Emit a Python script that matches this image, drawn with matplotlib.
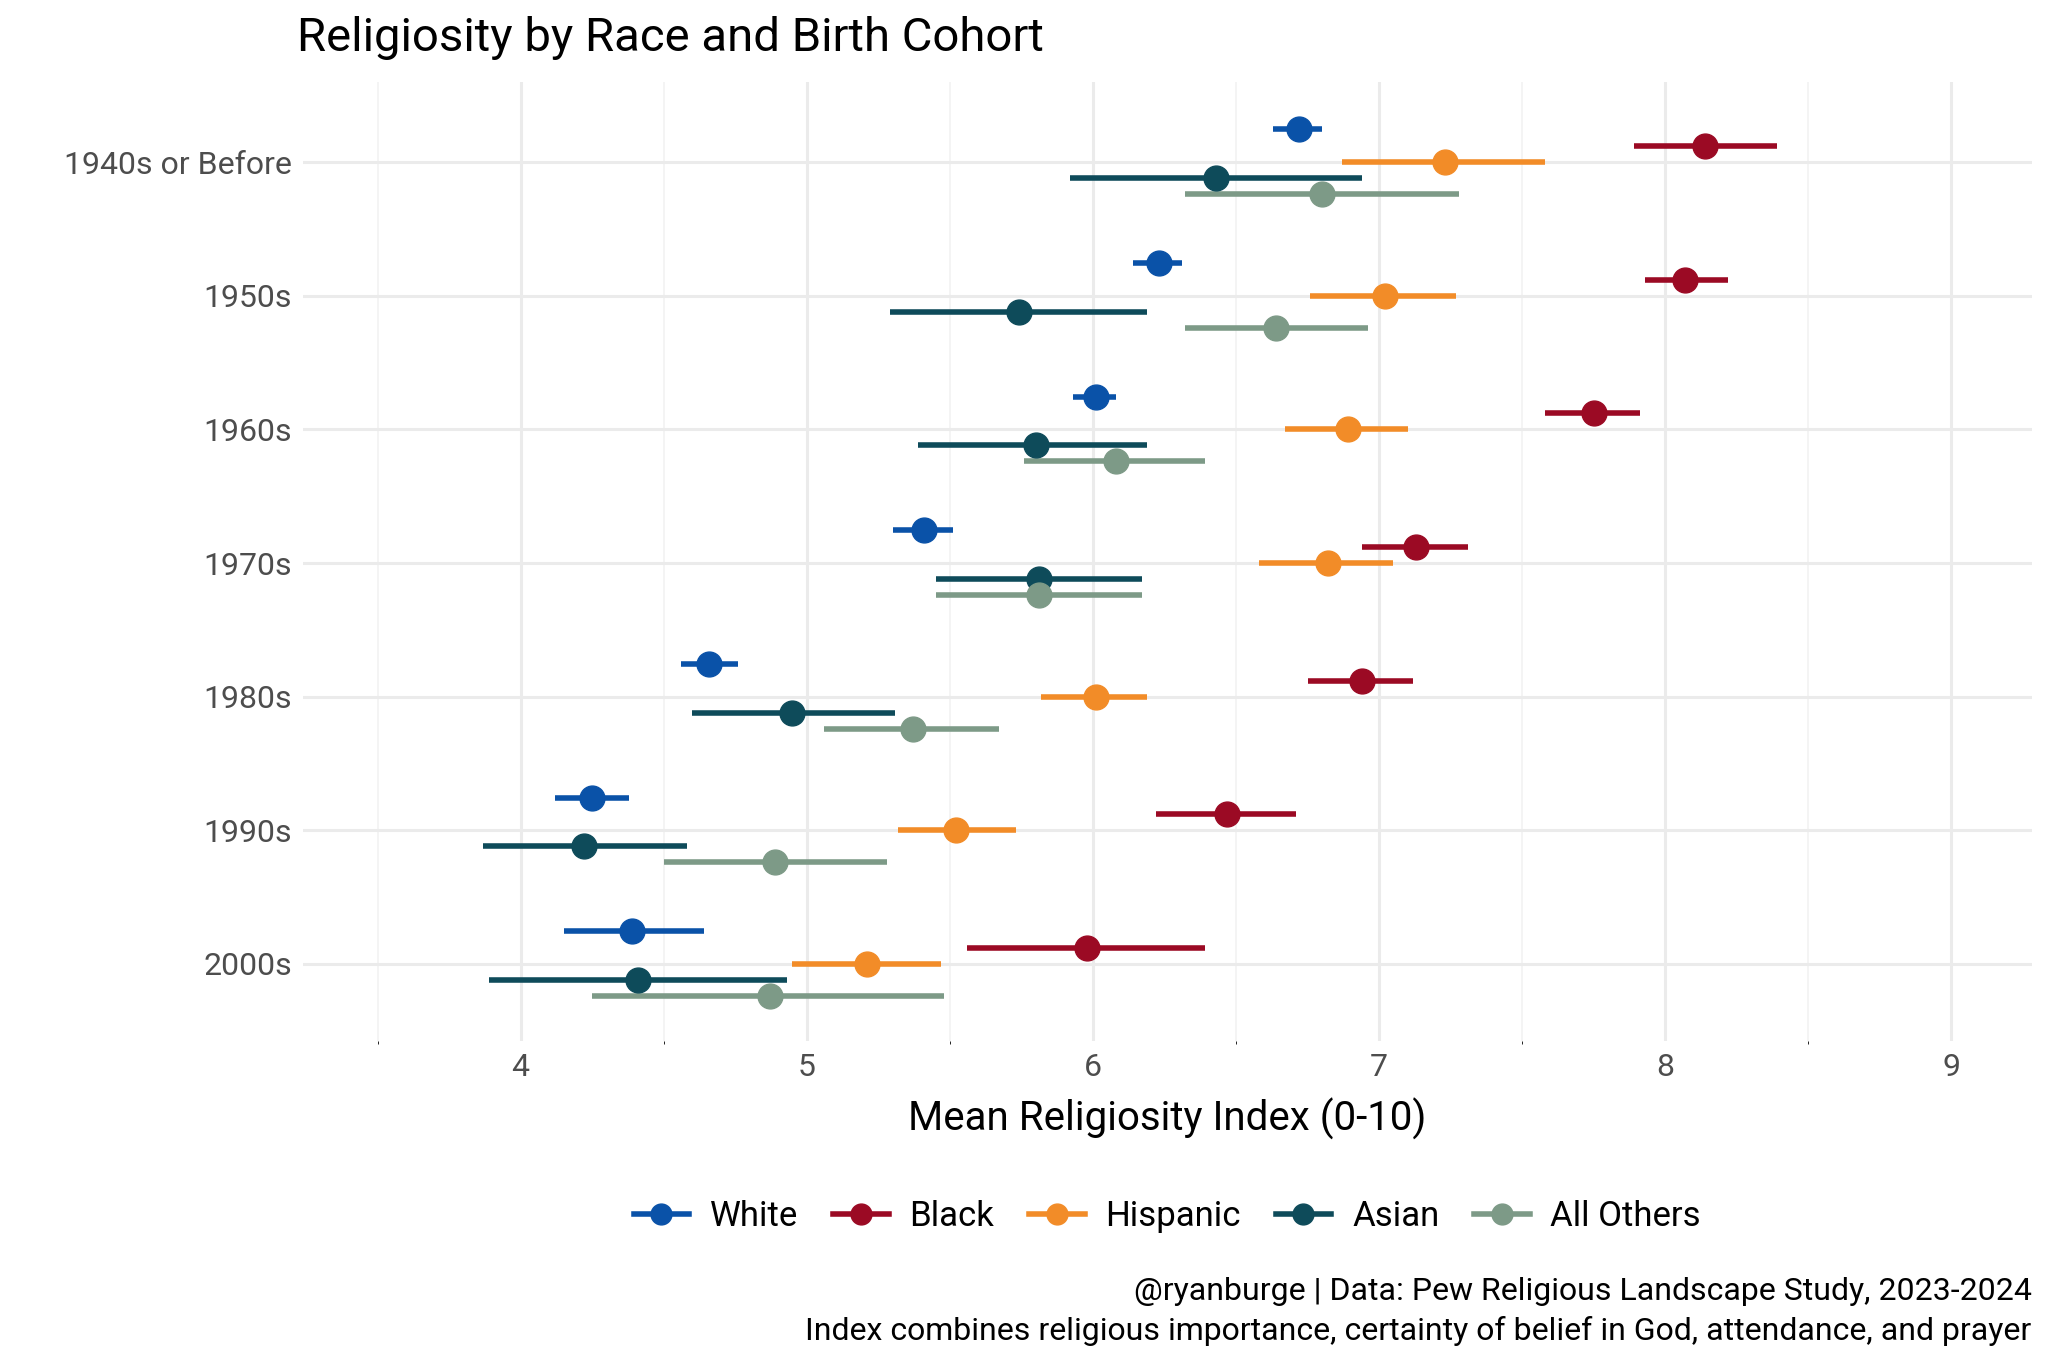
import numpy as np
import matplotlib.pyplot as plt
from matplotlib.lines import Line2D

plt.rcParams['font.family'] = ['Roboto', 'DejaVu Sans']

cohorts = ["1940s or Before", "1950s", "1960s", "1970s", "1980s", "1990s", "2000s"]
groups = ["White", "Black", "Hispanic", "Asian", "All Others"]
colors = ["#0A52A8", "#9B0A24", "#F28C28", "#0E4B5A", "#7D9A87"]
offsets = [-0.245, -0.12, 0.0, 0.12, 0.24]

means = {
    "White":      [6.72, 6.23, 6.01, 5.41, 4.66, 4.25, 4.39],
    "Black":      [8.14, 8.07, 7.75, 7.13, 6.94, 6.47, 5.98],
    "Hispanic":   [7.23, 7.02, 6.89, 6.82, 6.01, 5.52, 5.21],
    "Asian":      [6.43, 5.74, 5.80, 5.81, 4.95, 4.22, 4.41],
    "All Others": [6.80, 6.64, 6.08, 5.81, 5.37, 4.89, 4.87],
}
lows = {
    "White":      [6.63, 6.14, 5.93, 5.30, 4.56, 4.12, 4.15],
    "Black":      [7.89, 7.93, 7.58, 6.94, 6.75, 6.22, 5.56],
    "Hispanic":   [6.87, 6.76, 6.67, 6.58, 5.82, 5.32, 4.95],
    "Asian":      [5.92, 5.29, 5.39, 5.45, 4.60, 3.87, 3.89],
    "All Others": [6.32, 6.32, 5.76, 5.45, 5.06, 4.50, 4.25],
}
highs = {
    "White":      [6.80, 6.31, 6.08, 5.51, 4.76, 4.38, 4.64],
    "Black":      [8.39, 8.22, 7.91, 7.31, 7.12, 6.71, 6.39],
    "Hispanic":   [7.58, 7.27, 7.10, 7.05, 6.19, 5.73, 5.47],
    "Asian":      [6.94, 6.19, 6.19, 6.17, 5.31, 4.58, 4.93],
    "All Others": [7.28, 6.96, 6.39, 6.17, 5.67, 5.28, 5.48],
}

fig = plt.figure(figsize=(20.48, 13.65), dpi=100)
ax = fig.add_axes([0.148, 0.237, 0.844, 0.703])

y = np.arange(len(cohorts))
for g, c, off in zip(groups, colors, offsets):
    yy = y + off
    ax.hlines(yy, lows[g], highs[g], color=c, lw=4, zorder=3)
    ax.scatter(means[g], yy, s=320, color=c, zorder=4)

ax.set_xlim(3.24, 9.28)
ax.set_ylim(6.58, -0.6)
ax.set_yticks(y)
ax.set_yticklabels(cohorts)
ax.set_xticks(range(4, 10))
ax.set_xticks(np.arange(3.5, 9.5, 1), minor=True)
ax.grid(True, which="major", color="#EBEBEB", lw=2.2)
ax.grid(True, which="minor", axis="x", color="#F2F2F2", lw=1.2)
ax.set_axisbelow(True)
for s in ax.spines.values():
    s.set_visible(False)
ax.tick_params(length=0, labelsize=23, labelcolor="#4D4D4D", pad=8)
ax.set_xlabel("Mean Religiosity Index (0-10)", fontsize=29, labelpad=12)

fig.text(0.145, 0.972, "Religiosity by Race and Birth Cohort", fontsize=34, va="center")

handles = [Line2D([0], [0], color=c, lw=4, marker="o", markersize=15) for c in colors]
fig.legend(handles, groups, loc="center", bbox_to_anchor=(0.57, 0.109), ncol=5,
           frameon=False, fontsize=25, handlelength=1.6, columnspacing=1.0, handletextpad=0.6)

fig.text(0.992, 0.054, "@ryanburge | Data: Pew Religious Landscape Study, 2023-2024",
         ha="right", va="center", fontsize=23)
fig.text(0.992, 0.025, "Index combines religious importance, certainty of belief in God, attendance, and prayer",
         ha="right", va="center", fontsize=23)

fig.savefig("out.png", dpi=100, facecolor="white")
